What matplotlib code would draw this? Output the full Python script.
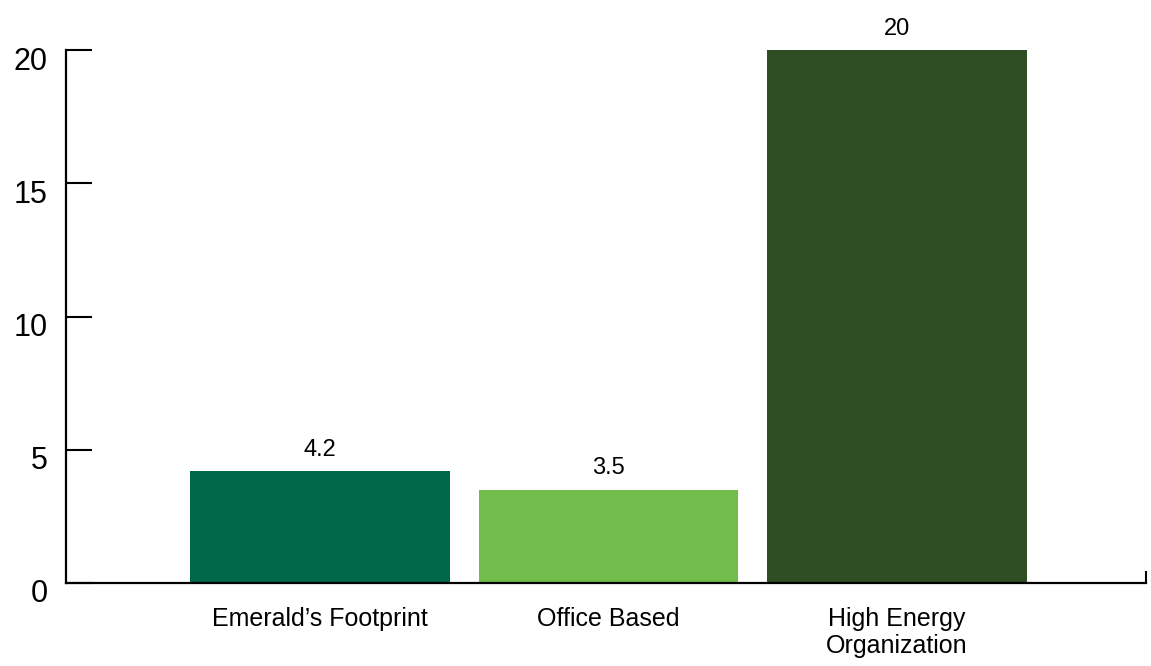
import matplotlib.pyplot as plt
from matplotlib.transforms import ScaledTranslation

plt.rcParams['font.family'] = ['Liberation Sans', 'DejaVu Sans']

categories = ['Emerald\u2019s Footprint', 'Office Based', 'High Energy\nOrganization']
values = [4.2, 3.5, 20]
value_labels = ['4.2', '3.5', '20']
colors = ['#006747', '#71BD4B', '#2E4D23']
y_ticks = [0, 5, 10, 15, 20]

fig = plt.figure(figsize=(11.51, 6.66), dpi=100)
ax = fig.add_axes([66 / 1151, 83 / 666, 1080 / 1151, 533 / 666])

x = list(range(len(categories)))
bars = ax.bar(x, values, width=0.9, color=colors)

for xi, v, lab in zip(x, values, value_labels):
    ax.annotate(lab, (xi, v), xytext=(0, 11), textcoords='offset points',
                ha='center', va='baseline', fontsize=17)

ax.set_xlim(-0.88, 2.863)
ax.set_ylim(0, 20)

ax.spines['top'].set_visible(False)
ax.spines['right'].set_visible(False)
ax.spines['left'].set_linewidth(1.6)
ax.spines['bottom'].set_linewidth(1.6)

ax.set_yticks(y_ticks)
ax.set_yticklabels([str(t) for t in y_ticks])
ax.tick_params(axis='y', direction='in', length=19, width=1.5, pad=13, labelsize=22)

# the y labels sit a little below their ticks in the original
shift = ScaledTranslation(0, -8 / 100, fig.dpi_scale_trans)
for label in ax.get_yticklabels():
    label.set_transform(label.get_transform() + shift)

ax.set_xticks(x)
ax.set_xticklabels(categories)
ax.tick_params(axis='x', length=0, pad=17, labelsize=18)

# small tick at the right end of the x axis
ax.set_xticks([2.863], minor=True)
ax.tick_params(axis='x', which='minor', direction='in', length=9, width=1.5)

fig.savefig('out.png', dpi=100)
